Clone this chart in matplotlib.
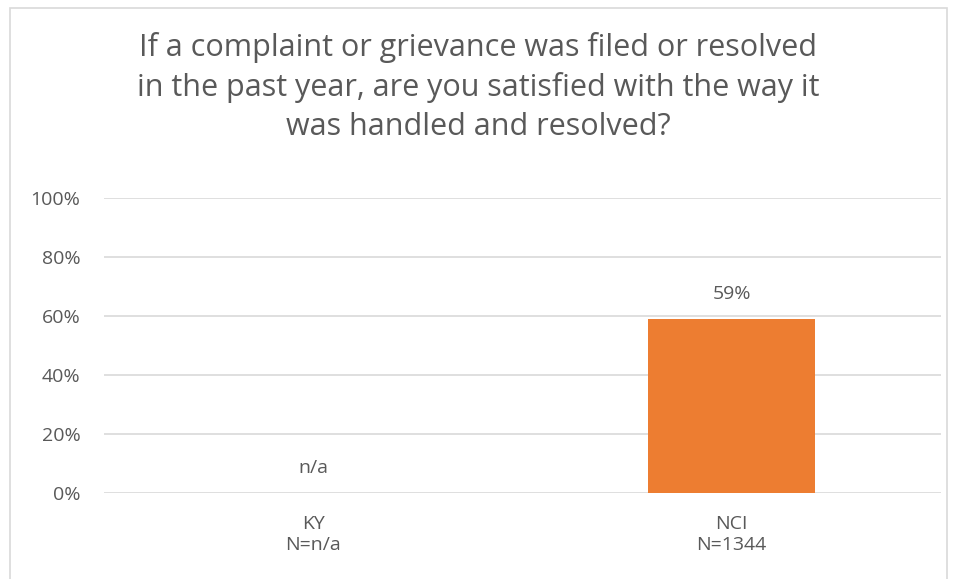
import matplotlib.pyplot as plt
from matplotlib.patches import Rectangle

categories = ['KY\nN=n/a', 'NCI\nN=1344']
values = [0.0, 0.59]
bar_labels = ['n/a', '59%']
yticks = [0, 0.2, 0.4, 0.6, 0.8, 1.0]
title = ('If a complaint or grievance was filed or resolved\n'
         'in the past year, are you satisfied with the way it\n'
         'was handled and resolved?')

plt.rcParams['font.family'] = ['Open Sans', 'DejaVu Sans']

W, H = 956, 579
fig = plt.figure(figsize=(W / 100, H / 100), dpi=100)
ax = fig.add_axes([104 / W, 1 - 493 / H, (941 - 104) / W, (493 - 198) / H])

# outer chart frame
fig.patches.append(Rectangle((10 / W, -0.05), (947 - 10) / W, 1.05 - 8 / H,
                             transform=fig.transFigure, fill=False,
                             edgecolor='#d9d9d9', lw=1.2))

x = range(len(categories))
ax.bar(x, values, width=0.40, color='#ed7d31', zorder=3)
ax.set_xlim(-0.5, len(categories) - 0.5)
ax.set_ylim(0, 1)
ax.set_yticks(yticks)
ax.set_yticklabels(['%d%%' % round(v * 100) for v in yticks])
ax.set_xticks(list(x))
ax.set_xticklabels(categories, linespacing=1.2)

for i, (v, lab) in enumerate(zip(values, bar_labels)):
    ax.annotate(lab, (i, v), xytext=(0, 18), textcoords='offset points',
                ha='center', va='center', fontsize=14, color='#595959')

ax.grid(axis='y', color='#d9d9d9', lw=1.2, zorder=0)
for s in ax.spines.values():
    s.set_visible(False)
ax.tick_params(axis='both', length=0, labelsize=14, colors='#595959')
ax.tick_params(axis='y', pad=17)
ax.tick_params(axis='x', pad=16)

fig.text(0.5, 1 - 87 / H, title, ha='center', va='center', fontsize=22,
         color='#595959', linespacing=1.4)

fig.savefig('out.png', dpi=100)
